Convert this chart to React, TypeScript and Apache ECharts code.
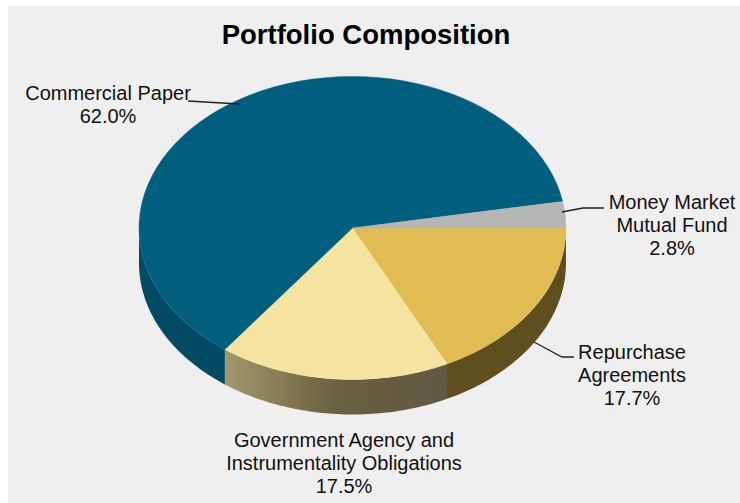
import React, { useEffect, useRef } from "react";
import * as echarts from "echarts";

const categories = ["Repurchase Agreements", "Government Agency and Instrumentality Obligations", "Commercial Paper", "Money Market Mutual Fund"];
const values = [17.7, 17.5, 62.0, 2.8];
const labelLines = [
  "Repurchase\nAgreements\n17.7%",
  "Government Agency and\nInstrumentality Obligations\n17.5%",
  "Commercial Paper\n62.0%",
  "Money Market\nMutual Fund\n2.8%",
];
const topColors = ["#E0BC52", "#F5E3A0", "#005F7F", "#B6B6B6"];
const sideColors: any[] = [
  "#5F4F1E",
  { type: "linear", x: 0, y: 0, x2: 1, y2: 0, colorStops: [
    { offset: 0, color: "#A3976C" },
    { offset: 0.5, color: "#6B6040" },
    { offset: 1, color: "#625843" },
  ] },
  "#004A64",
  "#777777",
];
const labelPos = [[632, 375], [344, 462.5], [108, 104], [672, 225]];
const leaders = [
  [[534, 342], [562, 357], [574, 357]],
  [],
  [[188, 101], [239, 104]],
  [[562, 212], [583, 208], [604, 208]],
];

const CX = 352.5, CY = 228, RX = 213.5, RY = 151.5, DEPTH = 35;
const total = values.reduce((a, b) => a + b, 0);
const startOf = (i: number) => values.slice(0, i).reduce((a, b) => a + b, 0) / total * Math.PI * 2;
const pt = (a: number, dy = 0) => [CX + RX * Math.cos(a), CY + RY * Math.sin(a) + dy];

function renderItem(params: any, api: any) {
  const i = params.dataIndex;
  const a0 = startOf(i);
  const a1 = a0 + (api.value(0) / total) * Math.PI * 2;
  const children: any[] = [];
  const s0 = Math.max(a0, 0), s1 = Math.min(a1, Math.PI);
  if (s1 > s0) {
    const n = 60;
    const top: number[][] = [], bottom: number[][] = [];
    for (let k = 0; k <= n; k++) {
      const a = s0 + ((s1 - s0) * k) / n;
      top.push(pt(a));
      bottom.unshift(pt(a, DEPTH));
    }
    children.push({ type: "polygon", shape: { points: top.concat(bottom) }, style: { fill: sideColors[i] }, z2: 1 });
  }
  children.push({
    type: "group", x: CX, y: CY, scaleY: RY / RX,
    children: [{
      type: "sector",
      shape: { cx: 0, cy: 0, r: RX, r0: 0, startAngle: a0, endAngle: a1, clockwise: true },
      style: { fill: topColors[i], stroke: topColors[i], lineWidth: 0.5 },
      z2: 2,
    }],
  });
  return { type: "group", children };
}

export default function App() {
  const ref = useRef<HTMLDivElement>(null);
  useEffect(() => {
    const chart = echarts.init(ref.current!, null, { renderer: "svg" });
    chart.setOption({
      animation: false,
      backgroundColor: "#FFFFFF",
      title: {
        text: "Portfolio Composition",
        left: 361, top: 15, textAlign: "center",
        textStyle: { fontFamily: "Liberation Sans", fontSize: 27.5, fontWeight: "bold", color: "#000000" },
      },
      graphic: [
        { type: "rect", z: -1, shape: { x: 8, y: 6, width: 732, height: 497 }, style: { fill: "#EFEFEF" } },
        ...leaders.filter((l) => l.length).map((l) => ({
          type: "polyline", z: 20, shape: { points: l }, style: { stroke: "#222222", lineWidth: 1.3, fill: "none" },
        })),
        ...labelLines.map((t, i) => ({
          type: "text", z: 20, x: labelPos[i][0], y: labelPos[i][1],
          style: {
            text: t, fontFamily: "Liberation Sans", fontSize: 20, lineHeight: 23,
            fill: "#111111", align: "center", verticalAlign: "middle",
          },
        })),
      ],
      series: [{
        type: "custom", coordinateSystem: "none", z: 5,
        renderItem,
        data: values.map((v, i) => ({ name: categories[i], value: [v] })),
      }],
    });
    return () => chart.dispose();
  }, []);
  return <div ref={ref} style={{ position: "fixed", left: 0, top: 0, width: 740, height: 503 }} />;
}
